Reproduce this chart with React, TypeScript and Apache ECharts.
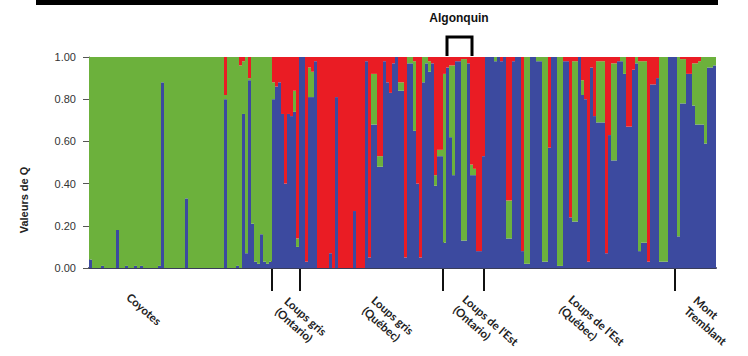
import React, { useEffect, useRef } from "react";
import * as echarts from "echarts";

// Q values per individual (STRUCTURE, K = 3); stacked bottom→top: blue, green, red
const blueQ = [
  0.04, 0, 0, 0, 0.01, 0, 0, 0, 0, 0.18,
  0, 0, 0.01, 0, 0, 0.01, 0, 0.01, 0, 0,
  0, 0, 0, 0.01, 0.88, 0, 0, 0, 0, 0,
  0, 0, 0.33, 0, 0, 0, 0, 0, 0, 0,
  0, 0, 0, 0, 0, 0.8, 0, 0, 0, 0.01,
  0, 0.73, 0.07, 0.89, 0.21, 0.03, 0.02, 0.16, 0.03, 0.02,
  0.03, 0.8, 0.86, 0.88, 0.73, 0.4, 0.73, 0.72, 0.74, 0.1,
  1, 1, 0.03, 0.81, 0.81, 0.98, 0, 0, 0, 0,
  0.07, 0, 0.81, 0, 0, 0, 0, 0, 0.27, 0,
  0, 0, 0.98, 0.05, 0.68, 0.68, 0.48, 0.48, 0.98, 0.88,
  0.83, 0.97, 1, 0.84, 0.84, 0.05, 0.97, 0.97, 0.65, 0.4,
  0.05, 0.88, 0.97, 0.93, 0.97, 0.39, 0.53, 0.53, 0.12, 0.95,
  0.62, 0.44, 0.98, 0.98, 0.13, 0.13, 0.97, 0.44, 0.44, 0.08,
  0.08, 0.53, 1, 1, 1, 0.98, 1, 0.98, 1, 0.14,
  0.14, 0.98, 1, 1, 0.08, 0.02, 0.02, 1, 1, 0.98,
  0.98, 0.03, 0.03, 0.57, 1, 1, 0.01, 0.01, 0.98, 0.98,
  0.24, 0.22, 0.22, 1, 0.82, 0.8, 0.03, 0.95, 0.72, 0.69,
  0.69, 0.69, 0.07, 0.63, 0.51, 0.51, 0.98, 0.98, 0.92, 0.67,
  0.67, 0.94, 0.97, 0.08, 0.12, 0.12, 0.03, 0.87, 0.87, 0.9,
  0.03, 0.03, 0.03, 1, 1, 1, 0.15, 0.78, 0.78, 0.92,
  0.92, 0.77, 0.68, 0.68, 0.68, 0.59, 0.95, 0.95, 0.96,
];

const greenQ = [
  0.96, 1, 1, 1, 0.99, 1, 1, 1, 1, 0.82,
  1, 1, 0.99, 1, 1, 0.99, 1, 0.99, 1, 1,
  1, 1, 1, 0.99, 0.12, 1, 1, 1, 1, 1,
  1, 1, 0.67, 1, 1, 1, 1, 1, 1, 1,
  1, 1, 1, 1, 1, 0.02, 1, 1, 1, 0.99,
  0.96, 0.25, 0.93, 0.01, 0.79, 0.97, 0.98, 0.84, 0.97, 0.98,
  0.97, 0.08, 0, 0, 0, 0, 0, 0, 0.1, 0.04,
  0, 0, 0, 0.14, 0.12, 0, 0, 0, 0, 0,
  0, 0, 0, 0, 0, 0, 0, 0, 0, 0,
  0, 0, 0, 0, 0.24, 0.24, 0.05, 0.05, 0, 0,
  0, 0, 0, 0.04, 0.04, 0, 0.03, 0.03, 0.33, 0,
  0, 0.12, 0.03, 0.05, 0, 0.05, 0.03, 0.03, 0.8, 0,
  0.34, 0.52, 0, 0, 0.86, 0.86, 0, 0.05, 0.03, 0,
  0, 0, 0, 0, 0, 0.02, 0, 0, 0, 0.18,
  0.18, 0, 0, 0, 0, 0.98, 0.98, 0, 0, 0.02,
  0.02, 0.97, 0.97, 0, 0, 0, 0.99, 0.99, 0, 0,
  0, 0.76, 0.76, 0, 0.07, 0, 0, 0, 0, 0.29,
  0.29, 0.29, 0, 0, 0.46, 0.46, 0, 0.02, 0.08, 0,
  0, 0, 0.03, 0.9, 0.86, 0.86, 0, 0, 0, 0,
  0.97, 0.97, 0.97, 0, 0, 0, 0.85, 0.21, 0.21, 0,
  0, 0.2, 0.29, 0.3, 0.32, 0.41, 0.05, 0.05, 0.04,
];

const redQ = [
  0, 0, 0, 0, 0, 0, 0, 0, 0, 0,
  0, 0, 0, 0, 0, 0, 0, 0, 0, 0,
  0, 0, 0, 0, 0, 0, 0, 0, 0, 0,
  0, 0, 0, 0, 0, 0, 0, 0, 0, 0,
  0, 0, 0, 0, 0, 0.18, 0, 0, 0, 0,
  0.04, 0.02, 0, 0.1, 0, 0, 0, 0, 0, 0,
  0, 0.12, 0.14, 0.12, 0.27, 0.6, 0.27, 0.28, 0.16, 0.86,
  0, 0, 0.97, 0.05, 0.07, 0.02, 1, 1, 1, 1,
  0.93, 1, 0.19, 1, 1, 1, 1, 1, 0.73, 1,
  1, 1, 0.02, 0.95, 0.08, 0.08, 0.47, 0.47, 0.02, 0.12,
  0.17, 0.03, 0, 0.12, 0.12, 0.95, 0, 0, 0.02, 0.6,
  0.95, 0, 0, 0.02, 0.03, 0.56, 0.44, 0.44, 0.08, 0.05,
  0.04, 0.04, 0.02, 0.02, 0.01, 0.01, 0.03, 0.51, 0.53, 0.92,
  0.92, 0.47, 0, 0, 0, 0, 0, 0.02, 0, 0.68,
  0.68, 0.02, 0, 0, 0.92, 0, 0, 0, 0, 0,
  0, 0, 0, 0.43, 0, 0, 0, 0, 0.02, 0.02,
  0.76, 0.02, 0.02, 0, 0.11, 0.2, 0.97, 0.05, 0.28, 0.02,
  0.02, 0.02, 0.93, 0.37, 0.03, 0.03, 0.02, 0, 0, 0.33,
  0.33, 0.06, 0, 0.02, 0.02, 0.02, 0.97, 0.13, 0.13, 0.1,
  0, 0, 0, 0, 0, 0, 0, 0.01, 0.01, 0.08,
  0.08, 0.03, 0.03, 0.02, 0, 0, 0, 0, 0,
];

const individuals = blueQ.map((_, i) => String(i + 1));
const yTickValues = [0, 0.2, 0.4, 0.6, 0.8, 1.0];

const populationLabels = [
  "Coyotes",
  "Loups gris\n(Ontario)",
  "Loups gris\n(Québec)",
  "Loups de l'Est\n(Ontario)",
  "Loups de l'Est\n(Québec)",
  "Mont\nTremblant",
];
const yAxisTitle = "Valeurs de Q";
const annotationTitle = "Algonquin";

const BLUE = "#3c4a9f";
const GREEN = "#6cb13c";
const RED = "#ea1c24";

export default function App() {
  const ref = useRef<HTMLDivElement>(null);

  useEffect(() => {
    if (!ref.current) return;
    const chart = echarts.init(ref.current, undefined, { renderer: "svg" });

    const labelAnchors = [
      [133, 290],
      [291, 294],
      [378, 293],
      [469, 292],
      [575, 292],
      [700, 293],
    ];
    const markerXs = [272, 300, 443, 484, 675];
    const rot = -0.72;

    const barCommon = {
      type: "bar" as const,
      stack: "q",
      barWidth: 3,
      silent: true,
    };

    chart.setOption({
      animation: false,
      backgroundColor: "#ffffff",
      grid: { left: 89, right: 32, top: 57, bottom: 88, containLabel: false },
      xAxis: {
        type: "category",
        data: individuals,
        axisLine: { show: true, lineStyle: { color: "#3a3d58", width: 2 } },
        axisTick: { show: false },
        axisLabel: { show: false },
        splitLine: { show: false },
      },
      yAxis: {
        type: "value",
        min: 0,
        max: 1,
        interval: 0.2,
        axisLine: { show: true, lineStyle: { color: "#666", width: 1 } },
        axisTick: { show: true, length: 6, lineStyle: { color: "#555" } },
        splitLine: { show: false },
        axisLabel: {
          margin: 13,
          fontSize: 11,
          color: "#333",
          fontFamily: "'Liberation Sans Narrow', 'Liberation Sans', sans-serif",
          formatter: (v: number) =>
            yTickValues.some((t) => Math.abs(t - v) < 1e-9) ? v.toFixed(2) : "",
        },
      },
      series: [
        { ...barCommon, name: "bleu", data: blueQ, itemStyle: { color: BLUE } },
        { ...barCommon, name: "vert", data: greenQ, itemStyle: { color: GREEN } },
        { ...barCommon, name: "rouge", data: redQ, itemStyle: { color: RED } },
      ],
      graphic: [
        { type: "rect", shape: { x: 36, y: 0, width: 682, height: 5 }, style: { fill: "#000" } },
        {
          type: "text",
          x: 459,
          y: 18,
          style: {
            text: annotationTitle,
            align: "center",
            verticalAlign: "middle",
            font: "bold 12px 'Liberation Sans', Arial, sans-serif",
            fill: "#111",
          },
        },
        {
          type: "polyline",
          shape: { points: [[447, 56], [447, 37], [472, 37], [472, 56]] },
          style: { stroke: "#000", lineWidth: 3, fill: null },
        },
        {
          type: "text",
          x: 24,
          y: 200,
          rotation: Math.PI / 2,
          style: {
            text: yAxisTitle,
            align: "center",
            verticalAlign: "middle",
            font: "bold 11px 'Liberation Sans', Arial, sans-serif",
            fill: "#222",
          },
        },
        ...markerXs.map((x) => ({
          type: "line",
          shape: { x1: x, y1: 237, x2: x, y2: 291 },
          style: { stroke: "#111", lineWidth: 2 },
        })),
        ...populationLabels.map((t, i) => ({
          type: "text",
          x: labelAnchors[i][0],
          y: labelAnchors[i][1],
          rotation: rot,
          style: {
            text: t,
            align: "left",
            verticalAlign: "top",
            lineHeight: 14,
            font: "bold 11.5px Lato, 'Open Sans', sans-serif",
            fill: "#222",
          },
        })),
      ],
    });

    return () => chart.dispose();
  }, []);

  return (
    <div
      ref={ref}
      style={{ position: "absolute", left: 0, top: 0, width: 748, height: 356 }}
    />
  );
}
